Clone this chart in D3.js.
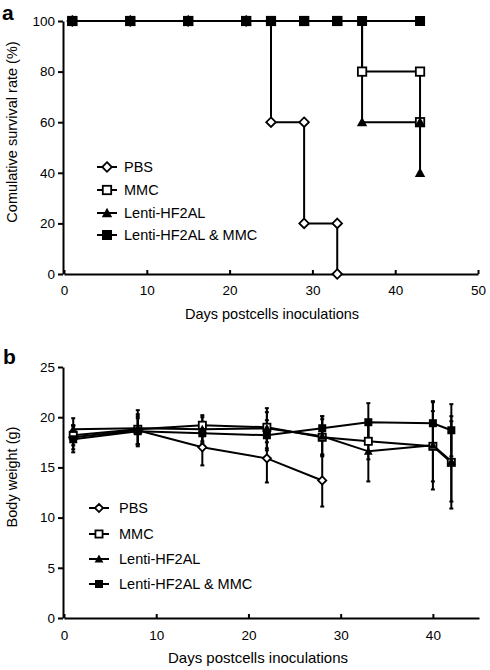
<!DOCTYPE html>
<html><head><meta charset="utf-8">
<script src="https://cdn.jsdelivr.net/npm/d3@7"></script>
<style>
body{margin:0;background:#fff;}
svg{display:block;font-family:"Liberation Sans",Arial,Helvetica,sans-serif;}
</style></head>
<body><svg id="c" width="490" height="670"></svg>
<script>
// ---------- Panel a: survival ----------
const seriesNames = ["PBS", "MMC", "Lenti-HF2AL", "Lenti-HF2AL & MMC"];
const survDaysPBS = [1, 8, 15, 22, 25, 29, 29, 33, 33];
const survPBS     = [100, 100, 100, 100, 60, 60, 20, 20, 0];
const survDaysMMC = [1, 8, 15, 22, 25, 29, 33, 36, 43, 43];
const survMMC     = [100, 100, 100, 100, 100, 100, 100, 80, 80, 60];
const survDaysLenti = [1, 8, 15, 22, 25, 29, 33, 36, 43, 43];
const survLenti     = [100, 100, 100, 100, 100, 100, 100, 60, 60, 40];
const survDaysCombo = [1, 8, 15, 22, 25, 29, 33, 36, 43];
const survCombo     = [100, 100, 100, 100, 100, 100, 100, 100, 100];
const survXTicks = [0, 10, 20, 30, 40, 50];
const survYTicks = [0, 20, 40, 60, 80, 100];

// ---------- Panel b: body weight ----------
const bwDaysPBS = [1, 8, 15, 22, 28];
const bwPBS     = [18.0, 18.7, 17.0, 15.9, 13.7];
const bwSdPBS   = [1.2, 1.4, 1.8, 2.4, 2.6];
const bwDays    = [1, 8, 15, 22, 28, 33, 40, 42];
const bwMMC     = [18.2, 18.8, 19.2, 19.0, 18.0, 17.6, 17.1, 15.5];
const bwSdMMC   = [1.0, 1.5, 1.0, 1.5, 1.8, 1.8, 3.5, 4.6];
const bwLenti   = [18.8, 18.9, 18.8, 18.9, 18.1, 16.6, 17.2, 15.6];
const bwSdLenti = [1.1, 1.8, 1.2, 2.0, 2.0, 3.0, 4.4, 4.0];
const bwCombo   = [17.8, 18.6, 18.4, 18.2, 18.9, 19.5, 19.4, 18.7];
const bwSdCombo = [1.3, 1.3, 1.0, 1.5, 1.2, 1.9, 2.1, 2.6];
const bwXTicks = [0, 10, 20, 30, 40];
const bwYTicks = [0, 5, 10, 15, 20, 25];

const svg = d3.select("#c");
const FONT = 14.5;

function marker(g, type, x, y, big) {
  const s = big ? 1 : 0.85;
  if (type === "diamond") {
    const r = 4.8 * s;
    g.append("path").attr("d", `M${x},${y-r}L${x+r},${y}L${x},${y+r}L${x-r},${y}Z`)
      .attr("fill", "#fff").attr("stroke", "#000").attr("stroke-width", 1.8);
  } else if (type === "open") {
    const h = 4.2 * s;
    g.append("rect").attr("x", x-h).attr("y", y-h).attr("width", 2*h).attr("height", 2*h)
      .attr("fill", "#fff").attr("stroke", "#000").attr("stroke-width", 1.8);
  } else if (type === "tri") {
    const w = 5.2 * s, t = 5.2 * s;
    g.append("path").attr("d", `M${x},${y-t}L${x+w},${y+t*0.8}L${x-w},${y+t*0.8}Z`).attr("fill", "#000");
  } else {
    const h = (big ? 5 : 4);
    g.append("rect").attr("x", x-h).attr("y", y-h).attr("width", 2*h).attr("height", 2*h).attr("fill", "#000");
  }
}
const types = ["diamond", "open", "tri", "filled"];

function styleAxis(g) {
  g.selectAll("path.domain").attr("stroke", "#000").attr("stroke-width", 2);
  g.selectAll(".tick line").attr("stroke", "#000").attr("stroke-width", 2);
  g.selectAll(".tick text").attr("fill", "#000").attr("font-size", 13.5)
    .attr("font-family", "Liberation Sans, Arial, sans-serif");
}

// ===== Panel a =====
{
  const x = d3.scaleLinear().domain([0, 50]).range([64, 478]);
  const y = d3.scaleLinear().domain([0, 100]).range([274, 21]);
  const g = svg.append("g");
  g.append("g").attr("transform", "translate(0,274)")
    .call(d3.axisBottom(x).tickValues(survXTicks).tickSize(-4).tickSizeOuter(0).tickPadding(11))
    .call(styleAxis);
  g.append("g").attr("transform", "translate(63,0)")
    .call(d3.axisLeft(y).tickValues(survYTicks).tickSize(5).tickSizeOuter(0).tickPadding(3))
    .call(styleAxis);

  const data = [
    survDaysPBS.map((d, i) => [d, survPBS[i]]),
    survDaysMMC.map((d, i) => [d, survMMC[i]]),
    survDaysLenti.map((d, i) => [d, survLenti[i]]),
    survDaysCombo.map((d, i) => [d, survCombo[i]])
  ];
  const line = d3.line().x(d => x(d[0])).y(d => y(d[1])).curve(d3.curveStepAfter);
  data.forEach(s => g.append("path").attr("d", line(s)).attr("fill", "none")
    .attr("stroke", "#000").attr("stroke-width", 2));
  const mg = g.append("g");
  data.forEach((s, k) => s.forEach(d => marker(mg, types[k], x(d[0]), y(d[1]), true)));

  // legend
  const lg = g.append("g");
  const rows = [167, 190, 213, 235];
  seriesNames.forEach((n, k) => {
    lg.append("line").attr("x1", 97).attr("x2", 117).attr("y1", rows[k]).attr("y2", rows[k])
      .attr("stroke", "#000").attr("stroke-width", 2);
    marker(lg, types[k], 107, rows[k], true);
    lg.append("text").attr("x", 124).attr("y", rows[k] + 5).attr("font-size", FONT).text(n);
  });

  g.append("text").attr("x", 272).attr("y", 319).attr("text-anchor", "middle")
    .attr("font-size", FONT).text("Days postcells inoculations");
  g.append("text").attr("transform", "translate(17,132) rotate(-90)").attr("text-anchor", "middle")
    .attr("font-size", FONT).text("Comulative survival rate (%)");
  g.append("text").attr("x", 2).attr("y", 20).attr("font-size", 21).attr("font-weight", "bold").text("a");
}

// ===== Panel b =====
{
  const x = d3.scaleLinear().domain([0, 45]).range([64, 479]);
  const y = d3.scaleLinear().domain([0, 25]).range([618, 367]);
  const g = svg.append("g");
  g.append("g").attr("transform", "translate(0,618)")
    .call(d3.axisBottom(x).tickValues(bwXTicks).tickSize(-4).tickSizeOuter(0).tickPadding(12))
    .call(styleAxis);
  g.append("g").attr("transform", "translate(63,0)")
    .call(d3.axisLeft(y).tickValues(bwYTicks).tickSize(5).tickSizeOuter(0).tickPadding(3))
    .call(styleAxis);

  const series = [
    bwDaysPBS.map((d, i) => ({d, m: bwPBS[i], s: bwSdPBS[i]})),
    bwDays.map((d, i) => ({d, m: bwMMC[i], s: bwSdMMC[i]})),
    bwDays.map((d, i) => ({d, m: bwLenti[i], s: bwSdLenti[i]})),
    bwDays.map((d, i) => ({d, m: bwCombo[i], s: bwSdCombo[i]}))
  ];
  const eg = g.append("g").attr("stroke", "#000").attr("stroke-width", 2);
  series.forEach(s => s.forEach(p => {
    const xx = x(p.d), y1 = y(p.m - p.s), y2 = y(p.m + p.s);
    eg.append("line").attr("x1", xx).attr("x2", xx).attr("y1", y1).attr("y2", y2);
    eg.append("line").attr("x1", xx-2).attr("x2", xx+2).attr("y1", y1).attr("y2", y1);
    eg.append("line").attr("x1", xx-2).attr("x2", xx+2).attr("y1", y2).attr("y2", y2);
  }));
  const line = d3.line().x(p => x(p.d)).y(p => y(p.m));
  series.forEach(s => g.append("path").attr("d", line(s)).attr("fill", "none")
    .attr("stroke", "#000").attr("stroke-width", 2));
  const mg = g.append("g");
  series.forEach((s, k) => s.forEach(p => marker(mg, types[k], x(p.d), y(p.m), false)));

  const lg = g.append("g");
  const rows = [508, 534, 559, 584];
  seriesNames.forEach((n, k) => {
    lg.append("line").attr("x1", 89).attr("x2", 109).attr("y1", rows[k]).attr("y2", rows[k])
      .attr("stroke", "#000").attr("stroke-width", 2);
    marker(lg, types[k], 99, rows[k], false);
    lg.append("text").attr("x", 119).attr("y", rows[k] + 5).attr("font-size", FONT).text(n);
  });

  g.append("text").attr("x", 258).attr("y", 663).attr("text-anchor", "middle")
    .attr("font-size", 15).text("Days postcells inoculations");
  g.append("text").attr("transform", "translate(17,477) rotate(-90)").attr("text-anchor", "middle")
    .attr("font-size", FONT).text("Body weight (g)");
  g.append("text").attr("x", 3).attr("y", 364).attr("font-size", 21).attr("font-weight", "bold").text("b");
}
</script></body></html>
